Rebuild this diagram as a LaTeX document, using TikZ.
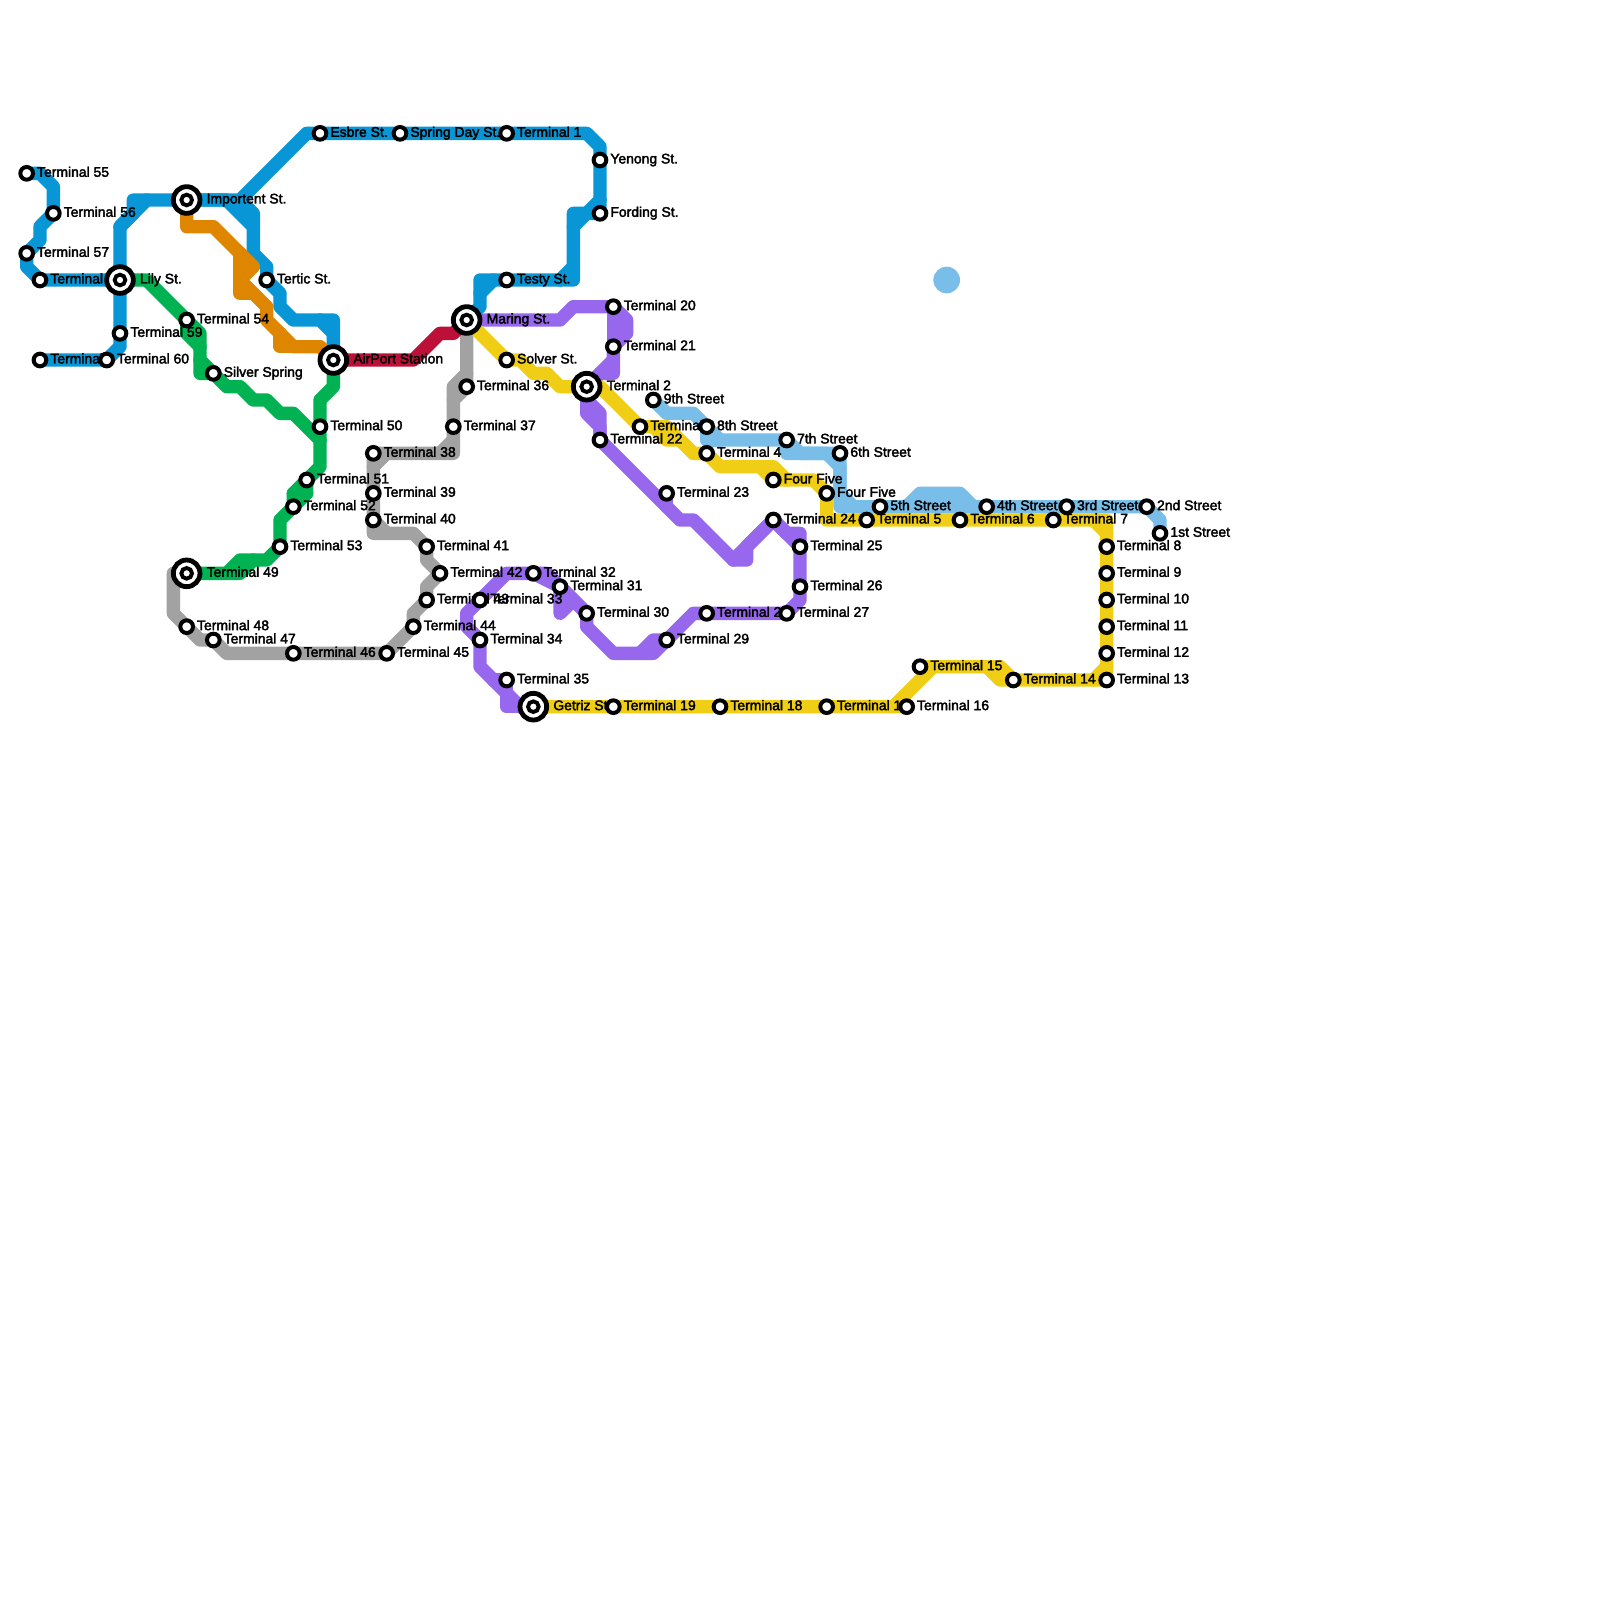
\documentclass[tikz,border=0pt]{standalone}
\usepackage{fontspec}
\newfontfamily\labfont{Liberation Sans}[FakeBold=2.5]
\definecolor{mblue}{HTML}{0896D7}
\definecolor{mlight}{HTML}{79BDE9}
\definecolor{morange}{HTML}{DF8600}
\definecolor{mgreen}{HTML}{00B251}
\definecolor{mpurple}{HTML}{9768EE}
\definecolor{myellow}{HTML}{F0CE15}
\definecolor{mred}{HTML}{BD1038}
\definecolor{mgray}{HTML}{A2A2A2}
\pgfdeclarelayer{lines}
\pgfdeclarelayer{labels}
\pgfsetlayers{lines,labels,main}
\tikzset{
  stnring/.style={circle,draw=black,fill=white,line width=3pt,minimum size=9.5pt,inner sep=0pt,outer sep=0pt},
  hubring/.style={circle,draw=black,fill=white,line width=3.6pt,minimum size=20pt,inner sep=0pt,outer sep=0pt},
  hubcore/.style={circle,draw=black,fill=white,line width=2.9pt,minimum size=8pt,inner sep=0pt,outer sep=0pt},
  lab/.style={anchor=base west,inner sep=0pt,outer sep=0pt,font=\labfont\fontsize{10.45pt}{12pt}\selectfont,text=black},
  mline/.style={line width=10pt,line join=round,line cap=round},
}
\newcommand{\stn}[4]{%
  \node[stnring] (#1) at (#2,#3) {};
  \begin{pgfonlayer}{labels}
    \node[lab] (#1-l) at ([xshift=7.8pt,yshift=-2.6pt]#1.center) {#4};
  \end{pgfonlayer}}
\newcommand{\hubn}[4]{%
  \node[hubring] (#1) at (#2,#3) {};
  \node[hubcore] (#1-c) at (#2,#3) {};
  \begin{pgfonlayer}{labels}
    \node[lab] (#1-l) at ([xshift=15pt,yshift=-2.6pt]#1.center) {#4};
  \end{pgfonlayer}}
\begin{document}
\begin{tikzpicture}[x=10pt,y=-10pt]
\begin{pgfonlayer}{lines}
  \fill[white] (0,0) rectangle (120,120);
\end{pgfonlayer}
\useasboundingbox (0,0) rectangle (120,120);
% stations
\stn{t55}{2}{13}{Terminal 55}
\stn{t56}{4}{16}{Terminal 56}
\stn{t57}{2}{19}{Terminal 57}
\stn{t58}{3}{21}{Terminal 58}
\hubn{lily}{9}{21}{Lily St.}
\stn{t59}{9}{25}{Terminal 59}
\stn{t61}{3}{27}{Terminal 6}
\stn{t60}{8}{27}{Terminal 60}
\hubn{impo}{14}{15}{Importent St.}
\stn{esbre}{24}{10}{Esbre St.}
\stn{spring}{30}{10}{Spring Day St.}
\stn{t1}{38}{10}{Terminal 1}
\stn{yenong}{45}{12}{Yenong St.}
\stn{fording}{45}{16}{Fording St.}
\stn{testy}{38}{21}{Testy St.}
\stn{tertic}{20}{21}{Tertic St.}
\hubn{airport}{25}{27}{AirPort Station}
\hubn{maring}{35}{24}{Maring St.}
\stn{solver}{38}{27}{Solver St.}
\hubn{t2}{44}{29}{Terminal 2}
\stn{t3}{48}{32}{Terminal 3}
\stn{t4}{53}{34}{Terminal 4}
\stn{ffa}{58}{36}{Four Five}
\stn{ffb}{62}{37}{Four Five}
\stn{t5}{65}{39}{Terminal 5}
\stn{t6}{72}{39}{Terminal 6}
\stn{t7}{79}{39}{Terminal 7}
\stn{t8}{83}{41}{Terminal 8}
\stn{t9}{83}{43}{Terminal 9}
\stn{t10}{83}{45}{Terminal 10}
\stn{t11}{83}{47}{Terminal 11}
\stn{t12}{83}{49}{Terminal 12}
\stn{t13}{83}{51}{Terminal 13}
\stn{t14}{76}{51}{Terminal 14}
\stn{t15}{69}{50}{Terminal 15}
\stn{t17}{62}{53}{Terminal 17}
\stn{t16}{68}{53}{Terminal 16}
\stn{t18}{54}{53}{Terminal 18}
\stn{t19}{46}{53}{Terminal 19}
\hubn{getriz}{40}{53}{Getriz St.}
\stn{t20}{46}{23}{Terminal 20}
\stn{t21}{46}{26}{Terminal 21}
\stn{t22}{45}{33}{Terminal 22}
\stn{t23}{50}{37}{Terminal 23}
\stn{t24}{58}{39}{Terminal 24}
\stn{t25}{60}{41}{Terminal 25}
\stn{t26}{60}{44}{Terminal 26}
\stn{t28}{53}{46}{Terminal 28}
\stn{t27}{59}{46}{Terminal 27}
\stn{t29}{50}{48}{Terminal 29}
\stn{t30}{44}{46}{Terminal 30}
\stn{t31}{42}{44}{Terminal 31}
\stn{t32}{40}{43}{Terminal 32}
\stn{t43}{32}{45}{Terminal 43}
\stn{t33}{36}{45}{Terminal 33}
\stn{t34}{36}{48}{Terminal 34}
\stn{t35}{38}{51}{Terminal 35}
\stn{t36}{35}{29}{Terminal 36}
\stn{t37}{34}{32}{Terminal 37}
\stn{t38}{28}{34}{Terminal 38}
\stn{t39}{28}{37}{Terminal 39}
\stn{t40}{28}{39}{Terminal 40}
\stn{t41}{32}{41}{Terminal 41}
\stn{t42}{33}{43}{Terminal 42}
\stn{t44}{31}{47}{Terminal 44}
\stn{t45}{29}{49}{Terminal 45}
\stn{t46}{22}{49}{Terminal 46}
\stn{t47}{16}{48}{Terminal 47}
\stn{t48}{14}{47}{Terminal 48}
\hubn{t49}{14}{43}{Terminal 49}
\stn{t50}{24}{32}{Terminal 50}
\stn{t51}{23}{36}{Terminal 51}
\stn{t52}{22}{38}{Terminal 52}
\stn{t53}{21}{41}{Terminal 53}
\stn{t54}{14}{24}{Terminal 54}
\stn{silver}{16}{28}{Silver Spring}
\stn{sn9}{49}{30}{9th Street}
\stn{sn8}{53}{32}{8th Street}
\stn{sn7}{59}{33}{7th Street}
\stn{sn6}{63}{34}{6th Street}
\stn{sn5}{66}{38}{5th Street}
\stn{sn4}{74}{38}{4th Street}
\stn{sn3}{80}{38}{3rd Street}
\stn{sn2}{86}{38}{2nd Street}
\stn{sn1}{87}{40}{1st Street}
\begin{pgfonlayer}{lines}
% blue
\begin{scope}[mline,draw=mblue]
\draw (t55.center) -- (3,13) -- (4,14) -- (t56.center) -- (3,17) -- (3,18) -- (t57.center) -- (2,20) -- (t58.center) -- (lily.center) -- (t59.center) -- (9,26) -- (t60.center) -- (t61.center);
\draw (lily.center) -- (9,17) -- (11,15) -- (impo.center);
\draw (9,17) -- (10,16) -- (10,15) -- (11,15);
\draw (impo.center) -- (18,15) -- (23,10) -- (esbre.center) -- (spring.center) -- (t1.center) -- (44,10) -- (45,11) -- (yenong.center) -- (fording.center) -- (43,16) -- (43,21) -- (testy.center) -- (36,21) -- (36,23) -- (maring.center);
\draw (45,15) -- (43,17);
\draw (43,20) -- (42,21);
\draw (37,21) -- (36,22);
\draw (impo.center) -- (17,15) -- (19,17) -- (19,19) -- (20,20) -- (tertic.center) -- (21,22) -- (21,23) -- (22,24) -- (25,24) -- (airport.center);
\draw (18,15) -- (19,16) -- (19,17);
\draw (24,24) -- (25,25);
\end{scope}
% light blue
\begin{scope}[mline,draw=mlight]
\draw (sn9.center) -- (50,31) -- (52,31) -- (54,33) -- (sn7.center) -- (60,34) -- (sn6.center) -- (63,37) -- (64,38) -- (sn5.center) -- (sn4.center) -- (sn3.center) -- (sn2.center) -- (87,39) -- (sn1.center);
\draw (sn8.center) -- (53,33) -- (54,33);
\draw (sn7.center) -- (59,34) -- (62,34) -- (63,35) -- (63,38) -- (sn5.center);
\draw (sn5.center) -- (68,38) -- (69,37) -- (72,37) -- (73,38);
\end{scope}
\node[circle,fill=mlight,minimum size=20pt,inner sep=0pt,outer sep=0pt] (blob) at (71,21) {};
% orange
\begin{scope}[mline,draw=morange]
\draw (impo.center) -- (14,17) -- (16,17) -- (19,20) -- (18,21) -- (20,23) -- (20,24) -- (22,26) -- (24,26) -- (airport.center);
\draw (18,19) -- (18,22) -- (19,22);
\draw (21,25) -- (21,26) -- (22,26);
\end{scope}
% green
\begin{scope}[mline,draw=mgreen]
\draw (lily.center) -- (11,21) -- (t54.center) -- (15,25) -- (15,28) -- (silver.center) -- (17,29) -- (18,29) -- (19,30) -- (20,30) -- (21,31) -- (22,31) -- (24,33);
\draw (t54.center) -- (14,25) -- (15,26);
\draw (15,27) -- (silver.center);
\draw (airport.center) -- (25,29) -- (24,30) -- (t50.center) -- (24,35) -- (t51.center) -- (22,37) -- (t52.center) -- (21,39) -- (t53.center) -- (20,42) -- (18,42) -- (17,43) -- (t49.center);
\draw (t51.center) -- (23,37) -- (t52.center);
\draw (22,37) -- (23,37);
\draw (17,43) -- (18,43) -- (19,42);
\end{scope}
% gray
\begin{scope}[mline,draw=mgray]
\draw (maring.center) -- (t36.center) -- (34,30) -- (t37.center) -- (34,34) -- (t38.center) -- (t39.center) -- (t40.center) -- (28,40) -- (31,40) -- (t41.center) -- (32,42) -- (t42.center) -- (32,44) -- (t43.center) -- (31,46) -- (t44.center) -- (t45.center) -- (t46.center) -- (17,49) -- (t47.center) -- (15,48) -- (t48.center) -- (13,46) -- (13,43) -- (t49.center);
\draw (35,28) -- (34,29) -- (34,30);
\draw (34,33) -- (33,34);
\draw (28,35) -- (29,34);
\draw (t40.center) -- (29,40);
\end{scope}
% red
\draw[mline,draw=mred] (airport.center) -- (31,27) -- (33,25) -- (34,25) -- (maring.center);
% purple
\begin{scope}[mline,draw=mpurple]
\draw (maring.center) -- (42,24) -- (43,23) -- (t20.center) -- (47,24) -- (47,25) -- (t21.center) -- (46,28) -- (45,28) -- (t2.center);
\draw (t20.center) -- (t21.center);
\draw (46,27) -- (45,28);
\draw (t2.center) -- (44,31) -- (45,32) -- (t22.center) -- (51,39) -- (52,39) -- (55,42) -- (56,42) -- (56,41) -- (t24.center) -- (t25.center) -- (t26.center) -- (60,45) -- (t27.center) -- (t28.center) -- (52,46) -- (t29.center) -- (49,49) -- (46,49) -- (44,47) -- (t30.center) -- (t31.center) -- (t32.center) -- (38,43) -- (t33.center) -- (35,46) -- (35,47) -- (t34.center) -- (36,50) -- (39,53) -- (getriz.center);
\draw (44,30) -- (45,31) -- (t22.center);
\draw (t23.center) -- (50,38);
\draw (55,42) -- (t24.center);
\draw (t24.center) -- (59,40) -- (60,40) -- (t25.center);
\draw (t29.center) -- (49,48) -- (48,49);
\draw (t32.center) -- (41,43) -- (t30.center);
\draw (t31.center) -- (42,46) -- (43,45);
\draw (37,51) -- (t35.center) -- (38,53) -- (getriz.center);
\end{scope}
% yellow
\begin{scope}[mline,draw=myellow]
\draw (maring.center) -- (solver.center) -- (39,27) -- (40,28) -- (41,28) -- (42,29) -- (t2.center) -- (45,29) -- (t3.center) -- (50,32) -- (52,34) -- (t4.center) -- (54,35) -- (58,35) -- (59,36) -- (61,36) -- (ffb.center) -- (62,39) -- (t5.center) -- (t6.center) -- (t7.center) -- (83,39) -- (t8.center) -- (t9.center) -- (t10.center) -- (t11.center) -- (t12.center) -- (t13.center) -- (t14.center) -- (75,50) -- (t15.center) -- (70,50) -- (67,53) -- (t16.center) -- (t17.center) -- (t18.center) -- (t19.center) -- (getriz.center);
\draw (49,32) -- (50,33) -- (51,33) -- (52,34);
\draw (57,35) -- (ffa.center) -- (59,36);
\draw (82,39) -- (83,40);
\draw (83,50) -- (82,51);
\draw (74,50) -- (75,51) -- (t14.center);
\end{scope}
\end{pgfonlayer}
\end{tikzpicture}
\end{document}
